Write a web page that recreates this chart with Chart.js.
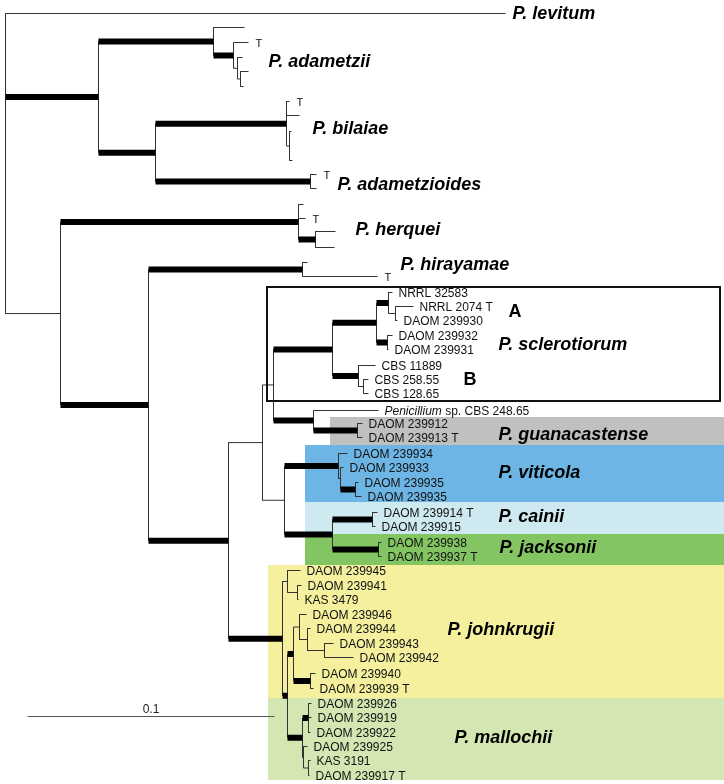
<!DOCTYPE html>
<html>
<head>
<meta charset="utf-8">
<script src="https://cdn.jsdelivr.net/npm/chart.js@4.4.1/dist/chart.umd.min.js"></script>
<style>
  html, body { margin: 0; padding: 0; background: #fff; }
  #wrap { width: 724px; height: 784px; position: relative; }
</style>
</head>
<body>
<div id="wrap"><canvas id="tree"></canvas></div>
<script>
// tree data: leaf = [branch length, row, label], node = [branch length, thick(1/0), children]
// branch lengths are in chart x units, the scale bar (0.1 subst./site) is 247 units
var levitum = [500, 13, ''];

var adametzii = [115, 1, [
  [31, 27, ''],
  [20, 1, [
    [15, 42, 'T'],
    [4, 0, [[5, 57, ''], [3, 0, [[8, 71, ''], [3, 86, '']]]]]
  ]]
]];

var bilaiae = [131, 1, [
  [3, 101, 'T'],
  [13, 115, ''],
  [3, 0, [[2, 131, ''], [3, 160, '']]]
]];

var adametzioides = [155, 1, [[6, 174, 'T'], [6, 188, '']]];

var herquei = [238, 1, [
  [5, 204, ''],
  [7, 218, 'T'],
  [17, 1, [[20, 231, ''], [19, 247, '']]]
]];

var hirayamae = [154, 1, [[5, 262, ''], [75, 276, 'T']]];

var sclerotiorum = [59, 1, [
  [44, 1, [
    [12, 1, [
      [4, 292, 'NRRL 32583'],
      [7, 0, [[18, 306, 'NRRL 2074 T'], [2, 320, 'DAOM 239930']]]
    ]],
    [11, 1, [[5, 335, 'DAOM 239932'], [1, 349, 'DAOM 239931']]]
  ]],
  [26, 1, [
    [17, 365, 'CBS 11889'],
    [5, 0, [[5, 379, 'CBS 258.55'], [5, 393, 'CBS 128.65']]]
  ]]
]];

var guanacastense = [40, 1, [
  [65, 410, 'Penicillium sp. CBS 248.65'],
  [44, 1, [[5, 423, 'DAOM 239912'], [5, 437, 'DAOM 239913 T']]]
]];

var viticola = [54, 1, [
  [9, 453, 'DAOM 239934'],
  [2, 0, [
    [3, 467, 'DAOM 239933'],
    [15, 1, [[3, 482, 'DAOM 239935'], [6, 496, 'DAOM 239935']]]
  ]]
]];

var cainii = [40, 1, [[5, 512, 'DAOM 239914 T'], [3, 526, 'DAOM 239915']]];
var jacksonii = [46, 1, [[3, 542, 'DAOM 239938'], [3, 556, 'DAOM 239937 T']]];

var johnkrugiiA = [5, 0, [
  [13, 570, 'DAOM 239945'],
  [10, 0, [[4, 585, 'DAOM 239941'], [1, 599, 'KAS 3479']]]
]];
var johnkrugiiB = [6, 0, [
  [7, 614, 'DAOM 239946'],
  [8, 0, [
    [3, 628, 'DAOM 239944'],
    [17, 0, [[9, 643, 'DAOM 239943'], [29, 657, 'DAOM 239942']]]
  ]]
]];
var johnkrugiiC = [17, 1, [[5, 673, 'DAOM 239940'], [3, 688, 'DAOM 239939 T']]];

var mallochiiA = [6, 1, [[3, 703, 'DAOM 239926'], [3, 717, 'DAOM 239919'], [2, 732, 'DAOM 239922']]];
var mallochiiB = [1, 0, [
  [4, 746, 'DAOM 239925'],
  [5, 0, [[2, 760, 'KAS 3191'], [1, 775, 'DAOM 239917 T']]]
]];

// backbone
var mallochii = [15, 1, [mallochiiA, mallochiiB]];
var johnkrugii = [6, 1, [johnkrugiiB, johnkrugiiC]];
var johnMal = [54, 1, [johnkrugiiA, [5, 1, [johnkrugii, mallochii]]]];
var vitCaiJac = [22, 0, [viticola, [48, 1, [cainii, jacksonii]]]];
var sclGua = [11, 0, [sclerotiorum, guanacastense]];
var lower = [80, 1, [[34, 0, [sclGua, vitCaiJac]], johnMal]];
var herqueiGroup = [55, 0, [herquei, [88, 1, [hirayamae, lower]]]];
var adametziiGroup = [93, 1, [adametzii, [57, 1, [bilaiae, adametzioides]]]];
var root = [0, 0, [levitum, adametziiGroup, herqueiGroup]];
var rootX = 5;

var scaleBarLength = 247;
var scaleBarText = '0.1';

// coloured species blocks [x0, y0, x1, y1, colour]
var shades = [
  [329, 416, 724, 444, '#c0c0c0'],
  [304, 444, 724, 501, '#6db5e4'],
  [304, 501, 724, 533, '#cfe9f1'],
  [304, 533, 724, 564, '#84c563'],
  [267, 564, 724, 697, '#f4f09d'],
  [267, 697, 724, 779, '#d4e6b1']
];
var outlineBox = [266, 286, 719, 400];

var speciesLabels = [
  ['P. levitum', 512, 13],
  ['P. adametzii', 268, 61],
  ['P. bilaiae', 312, 128],
  ['P. adametzioides', 337, 184],
  ['P. herquei', 355, 229],
  ['P. hirayamae', 400, 264],
  ['P. sclerotiorum', 498, 344],
  ['P. guanacastense', 498, 434],
  ['P. viticola', 498, 472],
  ['P. cainii', 498, 516],
  ['P. jacksonii', 499, 547],
  ['P. johnkrugii', 447, 629],
  ['P. mallochii', 454, 737]
];
var groupLabels = [['A', 508, 311], ['B', 463, 379]];

// walk the tree and collect line segments
var thinPts = [], thickPts = [], leaves = [];
function seg(arr, x0, y0, x1, y1) {
  arr.push({x: x0, y: y0}, {x: x1, y: y1}, {x: x1, y: null});
}
function place(n, x0) {
  var x1 = x0 + n[0];
  if (!Array.isArray(n[2])) {
    seg(thinPts, x0, n[1], x1, n[1]);
    leaves.push({x: x1, y: n[1], name: n[2]});
    return n[1];
  }
  var ys = n[2].map(function(c) { return place(c, x1); });
  var top = ys[0], bot = ys[ys.length - 1];
  var y = (top + bot) / 2;
  seg(thinPts, x1, top, x1, bot);
  if (n[0] > 0) seg(n[1] ? thickPts : thinPts, x0, y, x1, y);
  return y;
}
place(root, rootX);

var scaleBarPts = [{x: 27, y: 716}, {x: 27 + scaleBarLength, y: 716}];

var FONT = '"Liberation Sans", Arial, Helvetica, sans-serif';

var shadePlugin = {
  id: 'shades',
  beforeDatasetsDraw: function(chart) {
    var ctx = chart.ctx, xs = chart.scales.x, ys = chart.scales.y;
    ctx.save();
    shades.forEach(function(s) {
      var x0 = Math.round(xs.getPixelForValue(s[0])), y0 = Math.round(ys.getPixelForValue(s[1]));
      var x1 = Math.round(xs.getPixelForValue(s[2])), y1 = Math.round(ys.getPixelForValue(s[3]));
      ctx.fillStyle = s[4];
      ctx.fillRect(x0, y0, x1 - x0, y1 - y0);
    });
    ctx.restore();
  }
};

var labelPlugin = {
  id: 'labels',
  afterDatasetsDraw: function(chart) {
    var ctx = chart.ctx, xs = chart.scales.x, ys = chart.scales.y;
    ctx.save();
    // box round P. sclerotiorum
    var bx0 = Math.round(xs.getPixelForValue(outlineBox[0])), by0 = Math.round(ys.getPixelForValue(outlineBox[1]));
    var bx1 = Math.round(xs.getPixelForValue(outlineBox[2])), by1 = Math.round(ys.getPixelForValue(outlineBox[3]));
    ctx.strokeStyle = '#111';
    ctx.lineWidth = 2;
    ctx.strokeRect(bx0, by0, bx1 - bx0, by1 - by0);

    ctx.textBaseline = 'middle';
    ctx.textAlign = 'left';
    ctx.fillStyle = '#111';
    leaves.forEach(function(l) {
      if (!l.name) return;
      var px = xs.getPixelForValue(l.x), py = ys.getPixelForValue(l.y);
      if (l.name === 'T') {
        ctx.font = '11px ' + FONT;
        ctx.fillText('T', px + 7, py + 1);
        return;
      }
      if (l.name.indexOf('Penicillium') === 0) {
        ctx.font = 'italic 12px ' + FONT;
        ctx.fillText('Penicillium', px + 6, py + 1);
        var w = ctx.measureText('Penicillium').width;
        ctx.font = '12px ' + FONT;
        ctx.fillText(l.name.replace('Penicillium', ''), px + 6 + w, py + 1);
        return;
      }
      ctx.font = '12px ' + FONT;
      ctx.fillText(l.name, px + 6, py + 1);
    });

    ctx.fillStyle = '#000';
    ctx.font = 'bold italic 18px ' + FONT;
    speciesLabels.forEach(function(s) {
      ctx.fillText(s[0], xs.getPixelForValue(s[1]), ys.getPixelForValue(s[2]) + 1);
    });
    ctx.font = 'bold 18px ' + FONT;
    groupLabels.forEach(function(s) {
      ctx.fillText(s[0], xs.getPixelForValue(s[1]), ys.getPixelForValue(s[2]) + 1);
    });

    // scale bar label
    ctx.font = '12px ' + FONT;
    ctx.textAlign = 'center';
    ctx.fillStyle = '#222';
    ctx.fillText(scaleBarText, xs.getPixelForValue(27 + scaleBarLength / 2), ys.getPixelForValue(709));
    ctx.restore();
  }
};

var lineStyle = {showLine: true, pointRadius: 0, pointHoverRadius: 0, spanGaps: false,
  borderCapStyle: 'butt', borderJoinStyle: 'miter', tension: 0};

var ctx = document.getElementById('tree').getContext('2d');
var chart = new Chart(ctx, {
  type: 'scatter',
  data: {
    datasets: [
      Object.assign({data: thickPts, borderColor: '#000', borderWidth: 6, order: 0}, lineStyle),
      Object.assign({data: thinPts, borderColor: '#333', borderWidth: 1, order: 1}, lineStyle),
      Object.assign({data: scaleBarPts, borderColor: '#555', borderWidth: 1, order: 2}, lineStyle)
    ]
  },
  options: {
    animation: false,
    responsive: true,
    maintainAspectRatio: false,
    events: [],
    layout: {padding: 0},
    plugins: {legend: {display: false}, tooltip: {enabled: false}},
    scales: {
      x: {type: 'linear', min: -0.5, max: 723.5, display: false},
      y: {type: 'linear', min: -0.5, max: 783.5, reverse: true, display: false}
    }
  },
  plugins: [shadePlugin, labelPlugin]
});
</script>
</body>
</html>
